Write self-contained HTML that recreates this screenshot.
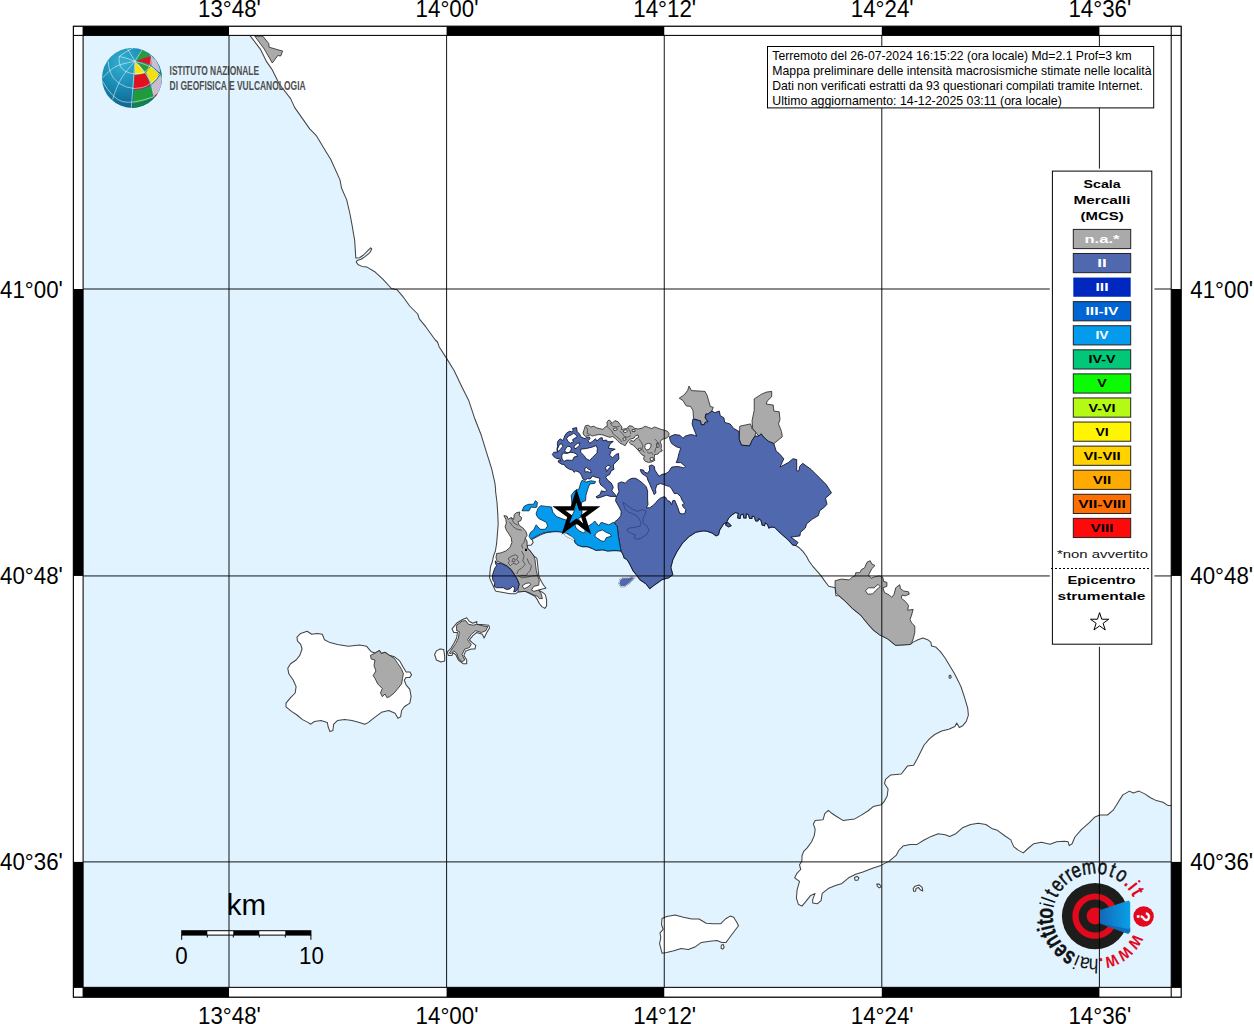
<!DOCTYPE html>
<html><head><meta charset="utf-8"><title>Mappa macrosismica</title>
<style>html,body{margin:0;padding:0;background:#fff;width:1254px;height:1024px;overflow:hidden;font-family:"Liberation Sans",sans-serif}</style>
</head><body>
<svg width="1254" height="1024" viewBox="0 0 1254 1024" style="position:absolute;left:0;top:0;font-family:'Liberation Sans',sans-serif">
<defs>
<clipPath id="mapclip"><rect x="83.1" y="35.4" width="1088.1000000000001" height="951.95"/></clipPath>
<radialGradient id="gl" cx="35%" cy="25%" r="80%"><stop offset="0" stop-color="#35b0d2"/><stop offset="0.55" stop-color="#1787b0"/><stop offset="1" stop-color="#0c5f8a"/></radialGradient>
<linearGradient id="cone" x1="0" x2="1" y1="0" y2="0"><stop offset="0" stop-color="#1268b8"/><stop offset="1" stop-color="#0aa0e6"/></linearGradient>
<clipPath id="globeclip"><circle cx="132" cy="77.9" r="30"/></clipPath>
</defs>
<rect x="0" y="0" width="1254" height="1024" fill="#fff"/>
<g clip-path="url(#mapclip)">
<rect x="83.1" y="35.4" width="1088.1000000000001" height="951.95" fill="#e0f3ff"/>
<path d="M250.4,36.1 L260.3,49.1 L266.7,61.9 L271.8,69.1 L279.4,84.2 L290.6,98.6 L294.6,107.4 L309.7,128.9 L316.1,135.3 L325.7,151.2 L330.8,159.5 L340.0,179.9 L341.5,188.0 L346.7,199.9 L349.9,213.5 L352.3,226.3 L354.7,240.6 L355.5,253.4 L355.8,258.1 L359.5,257.8 L363.5,255.0 L368.3,250.2 L370.7,247.8 L371.8,248.9 L369.9,252.6 L365.1,256.6 L361.1,259.3 L357.1,260.5 L356.3,262.1 L357.9,264.5 L361.9,266.4 L366.7,266.9 L374.7,271.7 L382.6,278.9 L391.4,288.5 L397.0,289.7 L403.4,297.2 L409.7,306.0 L417.7,314.0 L419.3,318.8 L425.7,326.7 L435.3,340.0 L437.5,342.0 L439.1,346.7 L446.3,357.9 L454.2,370.7 L462.2,387.4 L468.6,400.2 L475.0,419.3 L481.3,435.3 L486.1,451.2 L491.7,468.8 L494.9,483.1 L495.7,490.0 L495.4,490.0 L497.0,502.2 L497.8,514.4 L498.2,524.2 L497.2,536.4 L496.6,543.7 L495.4,551.0 L493.5,555.9 L492.3,562.0 L490.5,566.9 L489.9,573.0 L489.6,577.9 L491.1,581.6 L492.9,585.2 L494.8,589.5 L496.0,591.3 L503.3,592.5 L510.6,593.8 L515.5,593.8 L518.0,591.9 L525.3,591.3 L530.2,593.8 L535.0,596.2 L537.5,599.9 L539.3,603.5 L541.8,606.6 L544.8,608.4 L546.6,606.0 L546.6,599.9 L545.4,595.0 L543.6,593.1 L540.5,591.3 L538.7,590.1 L542.4,588.9 L546.0,588.3 L543.6,585.2 L541.8,582.2 L539.9,578.5 L538.7,575.4 L538.1,569.3 L537.5,563.2 L536.9,558.4 L533.8,555.9 L532.0,553.5 L530.2,551.0 L527.7,548.6 L527.1,545.5 L531.4,544.9 L533.2,542.5 L532.0,539.4 L536.3,537.0 L541.2,534.6 L546.0,532.7 L553.4,531.7 L561.9,531.5 L562.9,532.5 L568.0,533.8 L571.2,536.3 L574.4,538.9 L575.1,542.7 L578.2,545.3 L582.1,546.6 L587.2,546.6 L592.3,548.5 L596.1,550.4 L602.5,549.7 L607.6,551.0 L615.2,550.4 L621.0,551.0 L622.9,554.2 L624.2,558.0 L626.7,559.3 L628.6,561.9 L630.6,565.7 L633.1,570.8 L636.3,574.6 L639.9,579.7 L645.9,583.7 L649.8,588.7 L654.8,584.7 L661.8,579.7 L668.8,577.7 L672.8,574.7 L670.8,567.7 L672.8,559.7 L676.8,551.8 L682.7,542.8 L688.7,536.8 L695.7,532.2 L703.7,530.8 L707.2,531.3 L712.0,532.9 L716.1,535.9 L718.5,534.7 L719.7,529.9 L722.1,526.3 L723.9,523.3 L728.1,522.7 L731.1,525.7 L728.7,526.9 L725.7,525.1 L726.9,521.5 L728.7,517.9 L731.7,515.0 L735.3,512.6 L738.3,513.2 L737.7,517.9 L740.1,518.5 L740.7,515.0 L743.1,513.8 L743.7,517.9 L746.1,517.9 L746.1,513.8 L748.4,514.4 L749.6,518.5 L752.0,518.5 L752.0,516.1 L754.4,516.7 L755.6,520.9 L758.0,520.9 L758.6,518.5 L761.0,520.3 L762.2,525.1 L764.6,525.7 L765.2,522.7 L767.6,524.5 L768.8,528.1 L771.8,526.9 L774.8,527.5 L778.9,531.7 L783.7,535.9 L788.5,540.1 L792.7,544.9 L795.7,545.5 L799.3,547.8 L802.9,551.4 L806.5,556.2 L808.9,561.0 L812.4,565.8 L816.6,570.6 L820.8,575.4 L823.9,579.9 L828.7,586.3 L835.1,587.8 L835.9,595.8 L839.1,595.8 L844.7,600.6 L852.6,608.6 L860.6,615.0 L867.0,622.9 L873.4,630.1 L879.7,634.9 L887.7,638.9 L895.7,645.3 L910.0,644.5 L913.2,642.1 L918.0,639.7 L922.8,638.1 L927.6,639.7 L930.8,642.1 L931.6,646.1 L935.6,646.9 L940.4,651.6 L945.1,658.0 L949.9,666.0 L954.7,674.0 L958.7,681.9 L961.1,687.0 L964.6,697.6 L967.7,708.1 L968.4,715.2 L966.3,721.3 L962.8,725.7 L959.3,727.5 L956.7,723.1 L954.9,726.6 L948.8,729.2 L941.7,731.0 L934.7,734.5 L929.4,738.9 L924.1,745.0 L920.6,752.1 L917.1,759.1 L913.6,765.3 L907.4,766.1 L901.3,774.0 L890.7,774.9 L885.5,779.3 L884.6,783.7 L888.1,789.0 L887.2,796.0 L883.7,802.2 L881.1,804.8 L873.2,806.6 L867.9,811.0 L860.9,815.4 L854.7,818.9 L848.6,819.7 L843.3,820.6 L836.2,816.2 L831.0,812.7 L828.3,810.4 L824.8,813.6 L823.1,819.7 L815.2,820.6 L813.4,824.1 L815.2,829.4 L814.3,835.6 L811.6,841.7 L807.2,847.9 L803.7,851.4 L802.0,855.8 L801.9,861.1 L799.5,864.7 L800.7,869.5 L797.1,873.1 L794.7,877.8 L799.5,881.4 L797.1,889.8 L796.4,898.2 L798.3,904.2 L801.9,906.1 L805.5,901.8 L810.3,895.8 L815.1,893.4 L812.7,899.4 L812.7,903.0 L817.5,903.7 L821.1,900.6 L822.2,893.4 L828.2,888.6 L835.4,885.5 L841.4,883.8 L848.6,877.8 L855.7,874.3 L862.9,871.9 L872.5,868.3 L880.9,865.4 L889.2,861.1 L896.4,855.1 L898.7,850.5 L903.0,846.1 L910.1,844.4 L917.1,844.4 L924.1,840.0 L931.2,836.4 L938.2,833.8 L945.2,834.7 L949.6,836.4 L955.3,834.1 L963.0,827.4 L970.6,824.5 L978.3,823.2 L985.9,824.5 L991.7,828.4 L997.4,830.3 L1005.1,836.0 L1010.8,839.9 L1013.7,846.6 L1018.5,850.4 L1023.3,852.9 L1028.0,848.5 L1033.8,843.7 L1041.4,842.3 L1050.0,844.3 L1056.7,841.8 L1064.4,841.2 L1068.2,841.8 L1069.2,845.6 L1072.1,843.7 L1074.9,837.0 L1081.6,829.3 L1089.3,822.6 L1095.0,816.9 L1099.8,815.0 L1107.5,815.0 L1113.2,810.2 L1118.0,802.5 L1122.8,794.9 L1129.5,791.1 L1133.3,793.0 L1139.0,791.1 L1144.8,793.9 L1150.5,797.8 L1156.3,800.6 L1163.0,802.2 L1167.8,805.4 L1172.5,805.4 L1180,805 L1180,20 L250,20Z" fill="#fff" stroke="#444444" stroke-width="1.05" stroke-linejoin="round"/>
<path d="M297.0,637.1 L300.7,633.4 L307.1,631.2 L311.7,634.3 L317.2,633.4 L322.3,634.3 L324.5,639.8 L330.0,642.6 L337.4,644.4 L348.4,646.3 L359.4,645.0 L366.7,646.3 L371.3,651.8 L375.0,653.1 L379.5,650.5 L381.4,653.6 L385.0,652.3 L388.7,654.9 L394.2,656.7 L399.7,660.9 L403.4,667.4 L406.1,671.9 L409.8,671.9 L411.6,674.7 L409.8,677.4 L406.1,677.4 L404.3,680.2 L406.1,684.8 L409.8,689.4 L411.1,696.7 L409.8,703.1 L404.3,706.8 L401.6,710.5 L400.6,716.9 L397.9,718.3 L395.1,713.2 L388.7,710.5 L381.4,712.3 L374.0,717.8 L368.5,722.4 L364.9,724.2 L359.4,722.4 L352.0,720.6 L344.7,719.6 L337.4,720.6 L333.7,724.2 L332.8,730.6 L330.0,731.6 L328.2,727.0 L327.3,722.4 L320.9,720.6 L314.4,721.5 L310.8,724.2 L308.0,722.4 L302.5,719.6 L297.0,715.0 L291.5,711.4 L286.0,706.8 L286.0,703.1 L290.6,697.6 L295.2,693.0 L296.1,686.6 L293.3,680.2 L288.8,673.8 L287.8,668.3 L290.6,663.7 L296.1,660.0 L299.8,655.4 L302.1,649.0 L300.7,644.4 L297.4,640.8Z" fill="#fff" stroke="#444444" stroke-width="1.05" stroke-linejoin="round"/>
<path d="M452.0,628.8 L456.6,623.3 L462.1,619.7 L466.7,617.8 L469.4,621.5 L473.1,623.3 L476.8,621.5 L476.8,624.3 L484.1,624.8 L488.7,625.2 L489.6,627.9 L486.8,632.5 L484.1,638.0 L482.3,634.3 L476.8,632.5 L473.1,635.3 L469.4,639.8 L472.2,642.6 L475.8,645.4 L474.9,649.0 L471.3,649.0 L465.7,650.9 L463.9,655.4 L466.7,660.0 L466.7,663.7 L463.0,663.7 L458.4,660.0 L455.7,654.5 L452.9,652.7 L452.0,655.4 L448.3,655.4 L447.4,651.8 L451.1,648.1 L453.8,643.5 L456.6,638.0 L457.5,632.5 L453.8,632.5Z" fill="#fff" stroke="#444444" stroke-width="1.05" stroke-linejoin="round"/>
<path d="M434.6,654.5 L436.4,650.9 L440.1,649.0 L443.7,649.4 L444.7,656.4 L444.7,660.9 L441.0,661.9 L436.4,660.0Z" fill="#fff" stroke="#444444" stroke-width="1.05" stroke-linejoin="round"/>
<path d="M662.0,918.5 L666.7,916.6 L675.1,914.9 L683.5,917.3 L691.9,919.0 L699.0,919.0 L706.2,923.3 L713.4,923.8 L720.6,923.8 L725.4,919.0 L730.1,916.1 L733.7,917.3 L736.6,922.1 L738.5,925.7 L734.9,930.5 L731.3,935.3 L727.8,940.0 L726.1,942.4 L721.8,942.4 L717.0,940.5 L709.8,941.2 L701.4,942.4 L695.5,946.7 L688.3,949.6 L681.1,948.4 L673.9,950.8 L666.7,952.5 L662.0,953.2 L660.8,948.4 L659.6,943.6 L660.8,937.7 L660.0,932.9 L663.2,929.3 L661.5,924.5Z" fill="#fff" stroke="#444444" stroke-width="1.05" stroke-linejoin="round"/>
<path d="M854.5,877.4 L856.9,876.4 L858.9,877.8 L857.7,880.2 L855.0,880.2Z" fill="#fff" stroke="#444444" stroke-width="1.05" stroke-linejoin="round"/>
<path d="M876.8,884.1 L879.2,884.1 L881.3,886.9 L879.2,887.9 L877.3,886.2Z" fill="#fff" stroke="#444444" stroke-width="1.05" stroke-linejoin="round"/>
<path d="M913.2,888.6 L915.1,886.2 L919.1,885.0 L922.2,887.4 L922.7,891.0 L920.3,889.8 L918.4,887.4 L916.0,888.4 L915.6,891.2 L913.6,891.2Z" fill="#fff" stroke="#444444" stroke-width="1.05" stroke-linejoin="round"/>
<path d="M721.3,945.3 L723.2,944.4 L724.2,947.2 L722.7,949.1 L721.1,948.2Z" fill="#fff" stroke="#444444" stroke-width="1.05" stroke-linejoin="round"/>
<path d="M949.3,675.6 L950.6,675.2 L951.2,677.5 L949.9,678.4 L949.0,677.2Z" fill="#fff" stroke="#444444" stroke-width="1.05" stroke-linejoin="round"/>
<path d="M619.9,579.7 L622.9,577.7 L627.9,577.7 L631.9,576.7 L634.9,577.7 L631.9,580.7 L628.9,583.7 L624.9,586.7 L620.9,586.7 L618.9,583.7Z" fill="#fff" stroke="#444444" stroke-width="1.05" stroke-linejoin="round"/>
<path d="M254.7,36.1 L262.7,36.1 L268.8,43.6 L269.1,47.2 L282.6,51.1 L280.7,56.0 L277.8,55.5 L272.3,63.0 L264.3,49.1Z" fill="#aaaaaa" fill-rule="evenodd" stroke="#222" stroke-width="0.8" stroke-linejoin="round"/>
<path d="M583.0,432.9 L584.2,429.4 L585.4,425.8 L588.2,425.2 L590.9,427.0 L593.7,426.2 L596.5,427.8 L599.7,428.6 L602.9,429.4 L605.3,427.0 L607.3,425.8 L606.9,422.2 L608.9,419.9 L610.9,421.4 L612.1,423.4 L614.9,420.6 L618.1,421.8 L620.1,424.6 L622.0,427.0 L621.3,429.4 L623.6,429.0 L626.8,428.6 L629.2,425.8 L632.4,426.2 L634.4,428.2 L638.0,429.0 L642.0,428.2 L645.2,426.2 L648.4,427.4 L651.6,428.6 L654.7,427.0 L657.9,428.2 L661.1,429.4 L664.3,430.2 L667.5,431.3 L669.1,433.3 L668.7,436.1 L666.7,438.1 L663.5,438.9 L661.5,439.7 L660.3,442.1 L661.5,445.3 L661.1,448.5 L662.3,450.9 L659.5,452.1 L657.9,454.1 L654.7,454.5 L654.3,457.3 L654.7,460.5 L651.6,462.0 L648.4,462.4 L645.2,461.3 L643.6,458.9 L644.4,455.7 L642.0,454.9 L640.0,452.5 L638.0,450.1 L635.6,447.7 L633.6,445.3 L630.8,444.1 L629.2,442.5 L630.8,440.5 L634.0,441.3 L635.6,438.9 L638.8,437.3 L638.0,434.9 L635.6,435.7 L634.0,438.1 L630.8,438.9 L628.4,440.5 L626.8,442.9 L625.2,445.7 L622.8,444.5 L619.7,442.9 L617.3,440.5 L614.9,438.1 L612.5,436.5 L610.1,437.3 L606.9,436.5 L602.9,434.9 L598.9,434.5 L594.9,435.3 L592.1,436.1 L590.2,434.9 L587.8,435.7 L585.4,436.5 L583.8,434.9Z M645.2,444.5 L648.4,443.3 L651.2,444.1 L650.8,446.9 L649.2,449.3 L646.4,450.1 L644.8,447.7Z M623.2,430.6 L626.0,429.8 L627.6,430.9 L626.0,432.5 L623.6,432.1Z M622.8,438.1 L625.6,437.7 L626.0,439.7 L623.6,440.5Z M632.0,429.8 L634.8,429.4 L635.2,431.3 L632.4,431.7Z M613.3,428.6 L616.5,427.8 L617.3,429.8 L614.1,430.6Z M650.0,458.1 L652.8,457.3 L653.5,459.7 L650.8,460.9Z M638.4,448.5 L640.8,448.1 L641.2,450.1 L638.8,450.5Z M656.3,443.7 L658.7,442.9 L659.1,446.9 L657.1,447.7Z" fill="#aaaaaa" fill-rule="evenodd" stroke="#222" stroke-width="0.8" stroke-linejoin="round"/>
<path d="M586.2,427.0 L587.8,430.2 L587.0,433.3 L589.4,434.1" fill="none" stroke="#383838" stroke-width="0.7"/>
<path d="M606.9,426.2 L609.3,428.6 L611.7,430.9 L613.3,434.1 L616.5,436.5 L619.7,438.9 L622.0,442.1" fill="none" stroke="#383838" stroke-width="0.7"/>
<path d="M610.1,423.0 L612.5,426.2 L616.5,427.0 L619.7,426.2" fill="none" stroke="#383838" stroke-width="0.7"/>
<path d="M619.7,430.9 L622.8,434.1 L624.4,436.5 L627.6,437.3 L630.8,435.7" fill="none" stroke="#383838" stroke-width="0.7"/>
<path d="M627.6,427.8 L630.0,430.9 L630.8,434.1" fill="none" stroke="#383838" stroke-width="0.7"/>
<path d="M638.8,438.9 L641.2,442.1 L642.8,445.3 L642.0,449.3 L644.4,452.5" fill="none" stroke="#383838" stroke-width="0.7"/>
<path d="M654.7,438.9 L657.1,441.3 L657.9,445.3 L655.5,448.5 L654.7,452.5" fill="none" stroke="#383838" stroke-width="0.7"/>
<path d="M646.8,451.7 L649.2,453.3 L651.6,452.5 L653.1,454.9" fill="none" stroke="#383838" stroke-width="0.7"/>
<path d="M689.1,386.1 L691.4,390.6 L705.0,391.4 L707.3,395.9 L708.8,401.2 L710.3,406.5 L713.3,407.3 L711.8,411.1 L708.0,414.1 L705.8,414.1 L705.0,417.9 L708.0,421.7 L705.0,422.4 L704.2,424.7 L701.2,424.7 L700.5,420.9 L693.6,418.6 L692.9,410.3 L690.6,406.5 L686.1,405.8 L683.0,400.5 L679.2,398.2 L683.8,395.2 L687.6,390.6Z" fill="#aaaaaa" fill-rule="evenodd" stroke="#222" stroke-width="0.8" stroke-linejoin="round"/>
<path d="M771.7,391.4 L771.7,396.7 L767.1,401.2 L766.4,404.2 L773.2,405.0 L773.9,411.1 L779.2,411.8 L780.0,419.4 L778.5,423.9 L781.5,431.5 L782.3,436.8 L778.5,439.8 L773.9,443.6 L768.6,441.4 L764.1,437.6 L761.1,433.8 L758.8,436.1 L755.8,432.3 L752.7,428.5 L752.0,420.9 L754.2,410.3 L754.2,398.9 L761.1,394.4 L766.4,392.1Z" fill="#aaaaaa" fill-rule="evenodd" stroke="#222" stroke-width="0.8" stroke-linejoin="round"/>
<path d="M739.8,426.2 L750.5,423.9 L752.0,428.5 L755.8,432.3 L755.0,436.1 L752.0,440.6 L749.7,445.9 L741.4,445.2 L739.1,439.1Z" fill="#aaaaaa" fill-rule="evenodd" stroke="#222" stroke-width="0.8" stroke-linejoin="round"/>
<path d="M835.1,580.7 L841.5,579.1 L849.4,579.9 L852.6,576.7 L855.0,575.9 L855.8,572.7 L859.8,572.7 L861.4,569.5 L864.6,567.9 L867.0,562.3 L870.2,560.7 L871.8,563.9 L875.0,565.5 L871.8,568.7 L870.2,571.9 L868.6,575.1 L871.0,578.3 L875.0,576.7 L879.7,575.9 L882.9,577.5 L883.7,581.5 L886.9,582.3 L886.9,586.3 L882.9,587.8 L884.5,592.6 L889.3,595.0 L891.7,597.4 L894.1,594.2 L895.7,587.8 L899.7,584.7 L900.5,588.6 L903.7,591.0 L908.5,591.8 L909.3,594.2 L905.3,595.8 L902.1,595.0 L901.3,598.2 L905.3,601.4 L908.5,605.4 L907.7,610.2 L913.2,609.4 L911.6,615.0 L910.0,619.7 L911.6,622.9 L914.8,626.1 L914.8,632.5 L913.2,638.9 L911.6,642.9 L910.0,644.5 L895.7,645.3 L887.7,638.9 L879.7,634.9 L873.4,630.1 L867.0,622.9 L860.6,615.0 L852.6,608.6 L844.7,600.6 L839.1,595.8 L835.9,592.6 L835.1,586.3Z M865.4,590.7 L868.6,587.8 L874.2,587.8 L878.1,584.3 L880.1,586.6 L875.3,591.0 L872.6,593.9 L867.8,594.2Z" fill="#aaaaaa" fill-rule="evenodd" stroke="#222" stroke-width="0.8" stroke-linejoin="round"/>
<path d="M503.9,515.6 L507.0,516.2 L508.2,519.3 L511.2,517.5 L513.7,519.3 L514.3,514.4 L516.7,512.6 L519.8,512.0 L519.2,515.6 L521.6,517.5 L521.0,520.5 L518.0,521.7 L519.2,525.4 L522.8,527.8 L525.9,531.5 L527.1,535.2 L525.3,538.2 L527.1,541.3 L527.1,545.5 L527.7,548.6 L530.2,551.0 L532.0,553.5 L533.8,555.9 L535.0,559.6 L535.7,565.7 L536.3,570.6 L537.5,575.4 L539.3,580.3 L538.7,585.2 L533.8,586.4 L531.4,590.1 L533.8,591.3 L538.7,590.1 L541.2,593.8 L542.4,598.6 L539.3,598.6 L537.5,596.2 L535.0,595.6 L530.2,593.1 L525.3,591.3 L518.0,591.9 L518.0,587.7 L519.2,584.0 L517.3,579.1 L514.3,574.2 L511.2,569.3 L507.0,565.7 L502.1,563.2 L497.2,561.4 L496.0,557.7 L496.6,553.5 L500.9,552.9 L505.8,551.0 L510.0,547.4 L511.9,542.5 L511.2,537.6 L508.8,533.9 L506.4,530.3 L505.1,526.6 L506.4,523.0 L505.8,519.3Z M522.2,585.8 L525.9,583.4 L529.6,582.8 L530.8,584.6 L527.7,587.0 L524.1,588.9Z" fill="#aaaaaa" fill-rule="evenodd" stroke="#222" stroke-width="0.8" stroke-linejoin="round"/>
<path d="M508.2,558.4 L511.9,555.9 L515.5,554.7 L518.0,556.5 L516.7,559.6 L519.2,562.0 L516.7,564.5 L513.1,563.2 L510.6,565.7 L508.2,563.2 L509.4,560.8 L508.2,558.4" fill="none" stroke="#383838" stroke-width="0.7"/>
<path d="M513.1,558.4 L515.5,559.6 L514.3,562.0 L511.9,561.4 L513.1,558.4" fill="none" stroke="#383838" stroke-width="0.7"/>
<path d="M521.6,551.0 L524.1,555.9 L522.8,560.8 L525.3,564.5 L521.6,568.1 L518.0,570.6 L516.7,574.2" fill="none" stroke="#383838" stroke-width="0.7"/>
<path d="M527.1,558.4 L528.9,563.2 L531.4,565.7 L530.2,570.6 L527.7,573.0 L526.5,575.4 L520.4,575.4" fill="none" stroke="#383838" stroke-width="0.7"/>
<path d="M525.3,538.2 L524.1,542.5 L521.6,544.9 L522.8,548.6" fill="none" stroke="#383838" stroke-width="0.7"/>
<path d="M509.4,521.7 L513.1,526.6 L516.7,529.1 L521.6,530.3" fill="none" stroke="#383838" stroke-width="0.7"/>
<path d="M511.2,517.5 L513.7,523.0 L518.0,525.4" fill="none" stroke="#383838" stroke-width="0.7"/>
<path d="M518.0,575.4 L521.6,577.9 L526.5,577.3 L531.4,576.1 L537.5,575.4" fill="none" stroke="#383838" stroke-width="0.7"/>
<rect x="525" y="548.8" width="2" height="2.2" fill="#000"/>
<path d="M370.4,655.4 L375.0,653.1 L379.5,650.5 L381.4,653.6 L385.0,652.3 L388.7,654.9 L394.2,658.2 L397.9,663.7 L401.6,669.2 L403.4,673.8 L402.5,678.4 L401.6,683.9 L397.9,688.5 L394.2,693.0 L389.6,696.7 L386.9,697.6 L385.0,694.0 L382.3,696.7 L380.5,693.0 L382.3,688.5 L377.7,683.9 L375.0,678.4 L373.1,675.6 L375.9,671.0 L374.0,665.5 L375.0,660.0 L371.3,659.1Z" fill="#aaaaaa" fill-rule="evenodd" stroke="#222" stroke-width="0.8" stroke-linejoin="round"/>
<path d="M456.6,625.2 L462.1,621.1 L465.7,620.6 L468.5,624.3 L473.1,625.2 L476.8,624.3 L484.1,626.1 L487.8,626.6 L485.9,630.7 L481.3,632.5 L475.8,630.7 L471.3,634.3 L467.6,639.8 L471.3,644.4 L469.4,647.6 L464.8,649.0 L462.1,654.5 L464.8,660.0 L462.1,661.9 L458.4,658.2 L456.6,653.1 L453.8,650.9 L451.1,653.6 L449.2,653.1 L452.0,649.0 L455.7,643.5 L458.4,638.0 L459.3,631.6 L456.6,630.7Z" fill="#aaaaaa" fill-rule="evenodd" stroke="#222" stroke-width="0.8" stroke-linejoin="round"/>
<path d="M572.5,428.5 L576.6,427.6 L577.1,431.4 L579.5,434.0 L581.0,437.0 L585.1,438.8 L586.2,437.4 L589.6,437.0 L589.9,438.8 L588.1,440.7 L589.6,443.3 L592.5,441.4 L595.5,438.8 L597.0,441.1 L600.0,438.1 L602.2,437.7 L602.9,440.7 L606.6,440.0 L607.4,441.8 L613.3,441.4 L610.0,444.0 L608.3,448.1 L615.2,449.2 L611.1,451.1 L609.6,455.2 L612.6,457.8 L615.9,454.4 L618.5,453.5 L618.9,458.9 L616.3,461.9 L613.7,464.1 L613.3,467.0 L614.1,469.3 L611.1,470.9 L609.6,474.5 L606.6,476.0 L605.9,477.6 L608.1,480.6 L611.1,482.8 L613.3,487.2 L611.8,490.8 L615.2,494.5 L616.3,496.4 L610.3,496.4 L606.6,495.2 L600.0,497.5 L597.0,498.1 L596.1,496.7 L600.0,494.5 L601.4,490.8 L605.1,491.7 L606.6,490.1 L603.7,487.1 L600.7,484.9 L599.2,481.3 L600.0,478.3 L596.2,477.4 L592.5,476.0 L590.3,478.9 L587.3,478.6 L585.1,480.4 L582.9,478.9 L581.4,475.2 L579.2,472.2 L575.6,470.8 L574.3,472.4 L572.5,470.0 L569.5,469.3 L565.8,467.0 L564.0,464.4 L562.1,464.4 L558.4,462.2 L558.4,460.4 L560.6,461.1 L559.9,458.9 L556.2,458.3 L553.9,456.7 L552.3,454.4 L553.9,452.2 L557.5,452.1 L556.9,449.2 L557.6,446.3 L557.3,443.4 L558.0,440.9 L560.2,438.8 L562.8,440.5 L564.0,438.1 L564.7,435.9 L566.7,432.9 L569.5,431.3 L571.9,431.8 L573.2,430.7Z M566.6,438.5 L568.4,436.2 L571.4,434.8 L573.6,433.3 L575.8,434.8 L577.3,436.6 L575.1,438.1 L572.5,439.7 L573.6,441.8 L570.3,443.3 L568.0,441.4Z M559.1,445.2 L561.4,443.4 L562.8,446.3 L560.6,449.2 L558.0,451.6 L557.3,449.2 L558.4,447.0Z M565.8,448.5 L567.7,446.3 L570.3,446.6 L571.4,448.9 L570.3,451.5 L568.0,452.9 L565.8,452.2 L564.7,450.7Z M574.0,446.3 L577.3,443.4 L579.9,442.9 L579.2,445.5 L576.9,447.8 L574.7,448.9Z M561.7,455.9 L562.8,453.1 L566.6,453.4 L570.3,452.4 L573.2,452.6 L576.2,453.8 L577.7,456.1 L574.0,457.1 L572.5,460.4 L566.6,460.1 L564.0,461.5 L562.1,458.9Z M580.7,449.2 L586.6,448.5 L592.5,447.0 L596.2,445.5 L597.4,448.5 L597.0,452.9 L592.5,457.4 L589.6,460.4 L586.6,458.9 L583.6,455.2 L580.7,452.2Z M584.7,468.5 L586.6,467.4 L588.4,469.3 L590.7,470.0 L591.0,473.0 L589.2,472.2 L587.3,471.5 L585.1,472.2Z M605.5,467.8 L607.4,465.6 L609.6,465.2 L610.3,467.0 L608.1,469.3 L606.6,471.5Z" fill="#5068ae" fill-rule="evenodd" stroke="#0c1026" stroke-width="0.85" stroke-linejoin="round"/>
<path d="M669.4,436.8 L674.7,434.5 L680.0,435.3 L683.0,438.3 L685.3,436.1 L690.6,434.5 L694.4,435.3 L696.7,436.1 L693.6,428.5 L692.1,423.9 L692.9,419.1 L700.5,420.9 L701.2,424.7 L704.2,424.7 L705.0,422.4 L708.0,421.7 L705.3,417.9 L705.8,414.1 L708.0,414.1 L711.8,411.1 L714.8,412.6 L719.4,411.1 L720.2,415.6 L723.9,417.9 L724.7,422.4 L730.0,423.9 L733.8,428.5 L739.1,431.5 L739.1,439.1 L741.4,445.2 L749.7,445.9 L752.0,440.6 L755.0,436.1 L758.8,436.1 L761.1,433.8 L764.1,437.6 L768.6,441.4 L773.9,443.6 L776.2,451.2 L779.2,453.5 L783.8,458.8 L780.0,467.1 L788.3,462.6 L792.9,458.8 L796.7,459.5 L796.7,470.9 L798.9,470.9 L799.7,466.4 L802.7,463.3 L811.1,469.4 L815.6,473.9 L821.7,480.0 L826.2,484.5 L831.5,492.9 L825.5,498.2 L827.0,504.2 L824.4,507.2 L819.6,510.8 L818.4,515.6 L812.4,519.1 L806.5,523.9 L805.3,528.1 L800.5,532.3 L799.9,535.9 L790.9,537.1 L798.1,542.5 L795.7,545.5 L792.7,544.9 L788.5,540.1 L783.7,535.9 L778.9,531.7 L774.8,527.5 L771.8,526.9 L768.8,528.1 L767.6,524.5 L765.2,522.7 L764.6,525.7 L762.2,525.1 L761.0,520.3 L758.6,518.5 L758.0,520.9 L755.6,520.9 L754.4,516.7 L752.0,516.1 L752.0,518.5 L749.6,518.5 L748.4,514.4 L746.1,513.8 L746.1,517.9 L743.7,517.9 L743.1,513.8 L740.7,515.0 L740.1,518.5 L737.7,517.9 L738.3,513.2 L735.3,512.6 L731.7,515.0 L728.7,517.9 L726.9,521.5 L725.7,525.1 L728.7,526.9 L731.1,525.7 L728.1,522.7 L723.9,523.3 L722.1,526.3 L719.7,529.9 L718.5,534.7 L716.1,535.9 L712.0,532.9 L707.2,531.3 L703.7,530.8 L695.7,532.2 L688.7,536.8 L682.7,542.8 L676.8,551.8 L672.8,559.7 L670.8,567.7 L672.8,574.7 L668.8,577.7 L661.8,579.7 L654.8,584.7 L649.8,588.7 L645.9,583.7 L639.9,579.7 L636.3,574.6 L633.1,570.8 L630.6,565.7 L628.6,561.9 L626.7,559.3 L624.2,558.0 L622.9,554.2 L621.0,551.0 L619.7,544.0 L618.4,536.3 L617.2,526.1 L615.5,527.1 L614.6,521.9 L618.1,519.2 L620.8,515.7 L621.2,511.3 L619.0,506.9 L615.5,500.8 L616.4,496.8 L619.0,491.5 L618.1,487.6 L618.1,483.2 L621.6,481.9 L625.2,483.2 L628.7,479.7 L632.2,478.3 L635.7,478.3 L639.2,480.5 L642.7,483.2 L646.2,486.7 L647.6,491.1 L647.6,499.0 L648.0,504.7 L646.2,507.8 L649.8,507.8 L653.3,505.2 L655.9,502.5 L658.6,499.4 L661.2,497.7 L663.8,496.8 L665.6,497.2 L667.3,500.3 L670.0,501.6 L671.7,504.7 L672.6,500.8 L674.8,500.3 L677.9,507.8 L679.6,513.1 L682.3,513.9 L684.9,513.5 L685.8,509.6 L683.2,506.9 L682.3,504.7 L684.5,503.4 L682.3,500.8 L680.5,496.4 L677.0,493.3 L674.4,493.7 L671.7,488.9 L669.1,486.3 L665.6,485.4 L663.8,484.5 L660.3,483.6 L656.8,484.9 L655.5,489.3 L655.9,492.9 L654.2,494.6 L652.8,491.1 L651.5,488.5 L649.8,484.1 L648.0,480.5 L647.1,477.0 L644.5,475.3 L641.9,473.5 L640.1,470.0 L640.4,469.6 L643.5,470.1 L644.5,472.2 L647.6,473.2 L649.7,470.1 L649.2,466.0 L651.8,464.9 L654.4,466.5 L654.9,470.1 L657.0,473.2 L659.0,476.3 L662.1,474.3 L665.3,473.8 L664.1,474.7 L668.6,471.7 L671.7,467.1 L677.7,466.4 L683.8,467.9 L685.3,466.4 L680.8,462.6 L676.2,462.6 L677.7,458.8 L679.2,452.7 L680.8,448.2 L676.2,446.7 L671.7,443.6 L670.2,440.6Z" fill="#5068ae" fill-rule="evenodd" stroke="#0c1026" stroke-width="0.85" stroke-linejoin="round"/>
<path d="M495.4,560.8 L497.2,563.2 L502.1,563.9 L507.0,566.3 L511.2,570.0 L514.3,574.8 L517.3,579.7 L519.2,584.6 L518.0,588.3 L516.1,591.3 L513.7,591.9 L514.9,587.7 L512.5,586.4 L510.0,588.9 L506.4,589.5 L503.3,587.7 L499.6,587.7 L496.6,587.7 L494.2,586.4 L494.8,582.8 L492.9,580.3 L492.3,576.1 L493.5,571.8 L494.8,568.1 L496.6,565.7 L495.4,563.2Z" fill="#5068ae" fill-rule="evenodd" stroke="#0c1026" stroke-width="0.85" stroke-linejoin="round"/>
<path d="M619.9,579.7 L622.9,577.7 L627.9,577.7 L631.9,576.7 L634.9,577.7 L631.9,580.7 L628.9,583.7 L624.9,586.7 L620.9,586.7 L618.9,583.7Z" fill="#5068ae" stroke="#fff" stroke-width="0.8"/>
<path d="M623.0,502.1 L626.9,505.2 L631.3,508.7 L637.5,511.3 L642.7,509.6 L646.2,511.3 L644.5,515.7 L642.7,519.2 L643.6,523.6 L647.1,526.2 L648.9,529.8 L647.1,534.2 L641.9,537.7 L637.5,539.4 L633.9,537.7 L635.7,535.0 L631.3,533.3 L627.8,531.5 L626.9,529.8 L629.6,528.0 L635.7,527.1 L640.1,526.2 L641.0,522.7 L639.2,519.2 L636.6,515.7 L633.1,513.9 L628.7,512.2 L625.2,509.6 L623.8,505.2Z" fill="none" stroke="#26336b" stroke-width="0.6"/>
<path d="M536.1,513.4 L538.1,508.3 L540.6,505.7 L546.3,506.4 L551.5,507.0 L552.7,512.1 L556.6,516.6 L562.9,519.1 L569.3,521.0 L573.8,512.1 L575.1,508.3 L571.9,503.2 L571.2,495.5 L574.4,491.1 L578.9,489.1 L580.8,482.8 L582.1,480.2 L585.9,482.1 L591.0,480.8 L595.5,481.5 L594.8,483.4 L589.7,484.0 L587.8,489.1 L585.9,495.5 L585.6,500.6 L582.1,501.9 L580.8,505.7 L582.1,512.1 L580.8,517.2 L578.2,518.5 L582.1,523.6 L588.5,526.1 L592.3,523.6 L594.8,521.0 L598.7,526.1 L601.2,522.3 L605.0,523.6 L608.9,524.9 L613.3,522.3 L617.2,526.1 L618.4,536.3 L619.7,544.0 L621.0,551.0 L615.2,550.4 L607.6,551.0 L602.5,549.7 L596.1,550.4 L592.3,548.5 L587.2,546.6 L582.1,546.6 L578.2,545.3 L575.1,542.7 L574.4,538.9 L571.2,536.3 L568.0,533.8 L562.9,532.5 L556.6,531.2 L548.9,531.9 L542.5,533.2 L536.1,536.3 L531.0,539.5 L529.1,536.3 L530.4,532.5 L533.6,530.0 L536.1,524.9 L538.1,526.8 L540.0,529.3 L545.1,529.3 L547.6,526.1 L546.3,522.3 L542.5,520.4 L538.7,518.5 L536.8,515.9Z M595.5,533.8 L598.7,531.2 L602.5,530.0 L606.3,532.5 L610.1,533.8 L611.4,536.3 L606.3,537.6 L604.4,541.5 L601.2,540.8 L597.4,538.3 L594.8,536.3Z M574.8,524.4 L578.0,523.8 L580.5,526.3 L584.4,529.5 L585.6,531.4 L583.1,533.0 L579.3,530.8 L576.1,528.2Z" fill="#059bec" fill-rule="evenodd" stroke="#06223c" stroke-width="0.8" stroke-linejoin="round"/>
<path d="M563.4,533.0 L565.9,533.3 L569.1,535.2 L572.3,537.1 L574.8,539.7 L573.6,540.3 L570.4,538.4 L567.2,537.1 L564.7,535.2Z" fill="#fff" stroke="#555" stroke-width="0.5"/>
<path d="M522.1,510.8 L524.0,506.4 L527.8,504.4 L533.6,504.2 L535.5,500.6 L537.4,502.5 L536.8,507.0 L534.9,507.6 L531.0,507.0 L529.1,510.8 L525.3,510.8Z" fill="#059bec" fill-rule="evenodd" stroke="#06223c" stroke-width="0.8" stroke-linejoin="round"/>
<circle cx="132" cy="77.9" r="30" fill="url(#gl)"/>
<g clip-path="url(#globeclip)">
<path d="M135.66,60.88 L141.89,49.89 L149.58,54.65 L146.28,57.44 L141.89,58.9Z" fill="#2a9a3a"/>
<path d="M136.03,61.39 L141.89,59.05 L146.28,57.44 L151.26,56.48 L151.56,61.25 L150.82,65.05 L146.28,63.3 L141.89,62.12Z" fill="#e3121f"/>
<path d="M149.21,54.29 L152.88,57.22 L151.26,57.0Z" fill="#f4e21a"/>
<path d="M151.41,56.26 L156.17,60.51 L159.47,67.84 L160.2,72.6 L158.59,71.65 L151.41,65.49 L151.26,61.25Z" fill="#cbbfd3"/>
<path d="M136.76,62.34 L142.62,62.86 L150.82,65.79 L148.26,69.45 L145.55,72.38 L142.62,67.99 L139.69,64.32Z" fill="#2a9a3a"/>
<path d="M135.0,61.98 L138.96,64.91 L142.62,69.3 L144.96,73.11 L140.42,74.14 L134.78,74.58Z" fill="#f6e216"/>
<path d="M151.12,66.37 L158.88,73.85 L156.68,78.97 L151.41,84.1 L149.21,79.56 L145.99,72.38 L148.26,69.45Z" fill="#f2df14"/>
<path d="M134.41,75.16 L140.42,74.58 L145.26,73.41 L147.89,78.97 L150.24,84.84 L142.62,88.5 L133.97,89.67Z" fill="#e3101e"/>
<path d="M159.91,75.16 L162.03,78.1 L161.3,85.42 L158.15,92.89 L154.05,96.56 L152.58,91.28 L151.56,84.84 L156.68,80.0Z" fill="#c9bccf"/>
<path d="M160.35,72.23 L162.4,74.43 L162.03,77.0 L160.35,75.02Z" fill="#2a9a3a"/>
<path d="M133.83,90.55 L142.62,89.23 L150.82,85.86 L153.02,92.89 L153.75,97.29 L146.28,100.95 L132.95,103.88Z" fill="#1f9a3c"/>
<path d="M132.95,104.62 L146.28,101.68 L154.05,98.02 L150.68,103.37 L142.62,107.4 L132.0,108.5Z" fill="#12834a"/>
<path d="M154.49,95.68 L158.15,92.89 L156.9,96.04 L154.49,97.88Z" fill="#e3101e"/>
<path d="M134.93,61.25 Q133.1,83.96 131.26,108.13" fill="none" stroke="#fff" stroke-width="0.55" stroke-opacity="0.95"/>
<path d="M134.93,61.25 Q125.77,71.5 121.74,77.73 Q117.71,83.96 112.58,99.34" fill="none" stroke="#fff" stroke-width="0.55" stroke-opacity="0.95"/>
<path d="M134.93,61.25 Q119.18,64.18 114.05,67.47 Q108.92,70.77 102.33,78.1" fill="none" stroke="#fff" stroke-width="0.55" stroke-opacity="0.95"/>
<path d="M134.93,61.25 Q130.16,53.19 127.23,48.42" fill="none" stroke="#fff" stroke-width="0.55" stroke-opacity="0.95"/>
<path d="M134.93,61.25 L141.89,50.26" fill="none" stroke="#fff" stroke-width="0.55" stroke-opacity="0.95"/>
<path d="M134.93,61.25 Q145.55,72.23 148.48,78.09 Q151.41,83.96 153.97,97.14" fill="none" stroke="#fff" stroke-width="0.55" stroke-opacity="0.95"/>
<path d="M134.93,61.25 Q150.68,65.64 155.07,70.03 Q159.47,74.43 162.03,76.63" fill="none" stroke="#fff" stroke-width="0.55" stroke-opacity="0.95"/>
<path d="M119.18,56.48 Q118.81,64.91 121.56,68.2 Q124.3,71.5 129.62,72.97 Q134.93,74.43 140.24,73.33 Q145.55,72.23 148.12,68.94 Q150.68,65.64 151.41,56.85" fill="none" stroke="#fff" stroke-width="0.55" stroke-opacity="0.95"/>
<path d="M108.19,61.25 Q108.92,71.5 113.31,77.73 Q117.71,83.96 125.95,86.89 Q134.19,89.82 142.25,87.62 Q150.31,85.42 159.47,74.43" fill="none" stroke="#fff" stroke-width="0.55" stroke-opacity="0.95"/>
<path d="M102.33,81.03 Q112.58,98.61 122.1,101.54 Q131.63,104.47 153.61,96.78" fill="none" stroke="#fff" stroke-width="0.55" stroke-opacity="0.95"/>
<path d="M119.18,56.48 Q126.5,50.99 133.1,48.06" fill="none" stroke="#fff" stroke-width="0.55" stroke-opacity="0.95"/>
<path d="M119.18,56.48 Q125.77,57.58 134.93,61.25" fill="none" stroke="#fff" stroke-width="0.55" stroke-opacity="0.95"/>
</g>
<text x="169.6" y="75.3" font-size="12.4" fill="#4e4e4e" textLength="89.5" lengthAdjust="spacingAndGlyphs" font-weight="bold">ISTITUTO NAZIONALE</text>
<text x="169.6" y="89.7" font-size="12.4" fill="#4e4e4e" textLength="136" lengthAdjust="spacingAndGlyphs" font-weight="bold">DI GEOFISICA E VULCANOLOGIA</text>
<rect x="181.2" y="930.2" width="130.2" height="5.4" fill="#000"/>
<rect x="207.3" y="931.2" width="26.0" height="3.4" fill="#fff"/>
<rect x="259.3" y="931.2" width="26.0" height="3.4" fill="#fff"/>
<line x1="181.7" y1="935" x2="181.7" y2="939.8" stroke="#000" stroke-width="1"/>
<line x1="207.3" y1="935" x2="207.3" y2="937.5" stroke="#000" stroke-width="1"/>
<line x1="233.3" y1="935" x2="233.3" y2="937.5" stroke="#000" stroke-width="1"/>
<line x1="259.3" y1="935" x2="259.3" y2="937.5" stroke="#000" stroke-width="1"/>
<line x1="285.3" y1="935" x2="285.3" y2="937.5" stroke="#000" stroke-width="1"/>
<line x1="310.9" y1="935" x2="310.9" y2="939.8" stroke="#000" stroke-width="1"/>
<text x="246.3" y="914.5" font-size="29.5" text-anchor="middle" fill="#000">km</text>
<text transform="translate(181.4,964.2) scale(1,1.05)" font-size="22.3" text-anchor="middle" fill="#000">0</text>
<text transform="translate(311.4,964.2) scale(1,1.05)" font-size="22.3" text-anchor="middle" fill="#000">10</text>
<circle cx="1095.1" cy="916.1" r="33.2" fill="#1d1d1b"/>
<circle cx="1095.1" cy="916.1" r="19.6" fill="none" stroke="#e2091d" stroke-width="6.2"/>
<circle cx="1095.1" cy="916.1" r="8.5" fill="#e2091d"/>
<path d="M1099.48,910.37 L1127.03,900.88 L1128.87,900.61 L1130.19,902.46 L1130.19,931.72 L1128.34,933.83 L1126.23,933.3 L1099.48,923.28Z" fill="url(#cone)"/>
<path d="M1099.48,923.28 L1128.34,929.08 L1130.19,927.76 L1130.19,931.72 L1128.34,933.83 L1126.23,933.3Z" fill="#0b63ad" fill-opacity="0.75"/>
<circle cx="1143.6" cy="916.5" r="10.2" fill="#e2091d"/>
<text transform="translate(1137.4,916.9) rotate(90)" font-size="17.5" font-weight="bold" fill="#fff" text-anchor="middle">?</text>
<text transform="translate(1130.86,938.88) rotate(122.5) scale(0.8,1)" font-size="20.5" font-weight="bold" fill="#e2091d" text-anchor="middle">w</text>
<text transform="translate(1121.61,949.19) rotate(141.3) scale(0.8,1)" font-size="20.5" font-weight="bold" fill="#e2091d" text-anchor="middle">w</text>
<text transform="translate(1109.74,955.89) rotate(159.8) scale(0.8,1)" font-size="20.5" font-weight="bold" fill="#e2091d" text-anchor="middle">w</text>
<text transform="translate(1100.63,958.14) rotate(172.5) scale(0.8,1)" font-size="20.5" font-weight="bold" fill="#e2091d" text-anchor="middle">.</text>
<text transform="translate(1093.62,958.47) rotate(182) scale(0.84,1)" font-size="20.5" font-weight="normal" fill="#111" text-anchor="middle">h</text>
<text transform="translate(1085.71,957.45) rotate(192.8) scale(0.84,1)" font-size="20.5" font-weight="normal" fill="#111" text-anchor="middle">a</text>
<text transform="translate(1078.87,955.27) rotate(202.5) scale(0.84,1)" font-size="20.5" font-weight="normal" fill="#111" text-anchor="middle">i</text>
<text transform="translate(1072.32,951.86) rotate(212.5) scale(0.74,1)" font-size="24" font-weight="bold" fill="#111" text-anchor="middle" stroke="#111" stroke-width="0.35">s</text>
<text transform="translate(1065.12,946.08) rotate(225) scale(0.74,1)" font-size="24" font-weight="bold" fill="#111" text-anchor="middle" stroke="#111" stroke-width="0.35">e</text>
<text transform="translate(1058.91,938.19) rotate(238.6) scale(0.74,1)" font-size="24" font-weight="bold" fill="#111" text-anchor="middle" stroke="#111" stroke-width="0.35">n</text>
<text transform="translate(1055.39,930.95) rotate(249.5) scale(0.74,1)" font-size="24" font-weight="bold" fill="#111" text-anchor="middle" stroke="#111" stroke-width="0.35">t</text>
<text transform="translate(1053.91,926.14) rotate(256.3) scale(0.74,1)" font-size="24" font-weight="bold" fill="#111" text-anchor="middle" stroke="#111" stroke-width="0.35">i</text>
<text transform="translate(1052.97,920.9) rotate(263.5) scale(0.74,1)" font-size="24" font-weight="bold" fill="#111" text-anchor="middle" stroke="#111" stroke-width="0.35">t</text>
<text transform="translate(1052.78,913.51) rotate(273.5) scale(0.74,1)" font-size="24" font-weight="bold" fill="#111" text-anchor="middle" stroke="#111" stroke-width="0.35">o</text>
<text transform="translate(1053.82,906.42) rotate(283.2) scale(0.84,1)" font-size="20.5" font-weight="normal" fill="#111" text-anchor="middle">i</text>
<text transform="translate(1055.06,902.16) rotate(289.2) scale(0.84,1)" font-size="20.5" font-weight="normal" fill="#111" text-anchor="middle">l</text>
<text transform="translate(1057.52,896.46) rotate(297.6) scale(0.78,1)" font-size="21.5" font-weight="normal" fill="#111" text-anchor="middle" stroke="#111" stroke-width="0.5">t</text>
<text transform="translate(1062.15,889.42) rotate(309.0) scale(0.78,1)" font-size="21.5" font-weight="normal" fill="#111" text-anchor="middle" stroke="#111" stroke-width="0.5">e</text>
<text transform="translate(1067.39,884.0) rotate(319.2) scale(0.78,1)" font-size="21.5" font-weight="normal" fill="#111" text-anchor="middle" stroke="#111" stroke-width="0.5">r</text>
<text transform="translate(1072.38,880.3) rotate(327.6) scale(0.78,1)" font-size="21.5" font-weight="normal" fill="#111" text-anchor="middle" stroke="#111" stroke-width="0.5">r</text>
<text transform="translate(1078.67,877.01) rotate(337.2) scale(0.78,1)" font-size="21.5" font-weight="normal" fill="#111" text-anchor="middle" stroke="#111" stroke-width="0.5">e</text>
<text transform="translate(1089.64,874.05) rotate(352.6) scale(0.78,1)" font-size="21.5" font-weight="normal" fill="#111" text-anchor="middle" stroke="#111" stroke-width="0.5">m</text>
<text transform="translate(1101.51,874.19) rotate(368.7) scale(0.78,1)" font-size="21.5" font-weight="normal" fill="#111" text-anchor="middle" stroke="#111" stroke-width="0.5">o</text>
<text transform="translate(1110.29,876.52) rotate(381.0) scale(0.78,1)" font-size="21.5" font-weight="normal" fill="#111" text-anchor="middle" stroke="#111" stroke-width="0.5">t</text>
<text transform="translate(1118.07,880.46) rotate(392.8) scale(0.78,1)" font-size="21.5" font-weight="normal" fill="#111" text-anchor="middle" stroke="#111" stroke-width="0.5">o</text>
<text transform="translate(1124.82,885.86) rotate(404.5) scale(0.8,1)" font-size="20.5" font-weight="bold" fill="#e2091d" text-anchor="middle">.</text>
<text transform="translate(1128.42,889.88) rotate(411.8) scale(0.8,1)" font-size="20.5" font-weight="bold" fill="#e2091d" text-anchor="middle">i</text>
<text transform="translate(1131.89,895.03) rotate(420.2) scale(0.8,1)" font-size="20.5" font-weight="bold" fill="#e2091d" text-anchor="middle">t</text>
<line x1="229.0" y1="35.4" x2="229.0" y2="987.35" stroke="#000" stroke-width="0.92"/>
<line x1="446.6" y1="35.4" x2="446.6" y2="987.35" stroke="#000" stroke-width="0.92"/>
<line x1="664.25" y1="35.4" x2="664.25" y2="987.35" stroke="#000" stroke-width="0.92"/>
<line x1="881.8" y1="35.4" x2="881.8" y2="987.35" stroke="#000" stroke-width="0.92"/>
<line x1="1099.4" y1="35.4" x2="1099.4" y2="987.35" stroke="#000" stroke-width="0.92"/>
<line x1="83.1" y1="289.0" x2="1171.2" y2="289.0" stroke="#000" stroke-width="0.92"/>
<line x1="83.1" y1="575.95" x2="1171.2" y2="575.95" stroke="#000" stroke-width="0.92"/>
<line x1="83.1" y1="861.9" x2="1171.2" y2="861.9" stroke="#000" stroke-width="0.92"/>
<path d="M576.4,495.65 L580.53,508.36 L593.9,508.36 L583.08,516.22 L587.22,528.94 L576.4,521.08 L565.58,528.94 L569.72,516.22 L558.9,508.36 L572.27,508.36Z" fill="none" stroke="#000" stroke-width="4.25" stroke-miterlimit="10"/>
</g>
<rect x="767.5" y="46.5" width="386.2" height="61.4" fill="#fff" stroke="#000" stroke-width="1"/>
<text x="772.3" y="60.20" font-size="12.2" fill="#000" textLength="359.5" lengthAdjust="spacingAndGlyphs">Terremoto del 26-07-2024 16:15:22 (ora locale) Md=2.1 Prof=3 km</text>
<text x="772.3" y="75.13" font-size="12.2" fill="#000" textLength="379.3" lengthAdjust="spacingAndGlyphs">Mappa preliminare delle intensità macrosismiche stimate nelle località</text>
<text x="772.3" y="90.06" font-size="12.2" fill="#000" textLength="370.5" lengthAdjust="spacingAndGlyphs">Dati non verificati estratti da 93 questionari compilati tramite Internet.</text>
<text x="772.3" y="104.99" font-size="12.2" fill="#000" textLength="289.5" lengthAdjust="spacingAndGlyphs">Ultimo aggiornamento: 14-12-2025 03:11 (ora locale)</text>
<rect x="1049.8" y="168.6" width="104.6" height="478.2" fill="#fff"/>
<rect x="1052.4" y="171.1" width="99.4" height="473.1" fill="#fff" stroke="#000" stroke-width="1"/>
<text x="1102.1" y="188.2" font-size="11.8" font-weight="bold" fill="#000" text-anchor="middle" textLength="37" lengthAdjust="spacingAndGlyphs">Scala</text>
<text x="1102.1" y="204.1" font-size="11.8" font-weight="bold" fill="#000" text-anchor="middle" textLength="57" lengthAdjust="spacingAndGlyphs">Mercalli</text>
<text x="1102.1" y="220.2" font-size="11.8" font-weight="bold" fill="#000" text-anchor="middle" textLength="43" lengthAdjust="spacingAndGlyphs">(MCS)</text>
<rect x="1073.3" y="229.40" width="57.4" height="19.2" fill="#aaaaaa" stroke="#222" stroke-width="1"/>
<text x="1102.0" y="243.0" font-size="11.6" font-weight="bold" fill="#fff" text-anchor="middle" textLength="35" lengthAdjust="spacingAndGlyphs">n.a.*</text>
<rect x="1073.3" y="253.48" width="57.4" height="19.2" fill="#5068ae" stroke="#222" stroke-width="1"/>
<text x="1102.0" y="267.08" font-size="11.6" font-weight="bold" fill="#fff" text-anchor="middle" textLength="9.5" lengthAdjust="spacingAndGlyphs">II</text>
<rect x="1073.3" y="277.56" width="57.4" height="19.2" fill="#0028be" stroke="none" stroke-width="1"/>
<text x="1102.0" y="291.16" font-size="11.6" font-weight="bold" fill="#fff" text-anchor="middle" textLength="13" lengthAdjust="spacingAndGlyphs">III</text>
<rect x="1073.3" y="301.64" width="57.4" height="19.2" fill="#0064d2" stroke="#222" stroke-width="1"/>
<text x="1102.0" y="315.24" font-size="11.6" font-weight="bold" fill="#fff" text-anchor="middle" textLength="33" lengthAdjust="spacingAndGlyphs">III-IV</text>
<rect x="1073.3" y="325.72" width="57.4" height="19.2" fill="#059bec" stroke="#222" stroke-width="1"/>
<text x="1102.0" y="339.32" font-size="11.6" font-weight="bold" fill="#fff" text-anchor="middle" textLength="13" lengthAdjust="spacingAndGlyphs">IV</text>
<rect x="1073.3" y="349.80" width="57.4" height="19.2" fill="#00c878" stroke="#222" stroke-width="1"/>
<text x="1102.0" y="363.4" font-size="11.6" font-weight="bold" fill="#000" text-anchor="middle" textLength="27" lengthAdjust="spacingAndGlyphs">IV-V</text>
<rect x="1073.3" y="373.88" width="57.4" height="19.2" fill="#0cfb05" stroke="#222" stroke-width="1"/>
<text x="1102.0" y="387.48" font-size="11.6" font-weight="bold" fill="#000" text-anchor="middle" textLength="9.5" lengthAdjust="spacingAndGlyphs">V</text>
<rect x="1073.3" y="397.96" width="57.4" height="19.2" fill="#b4fa14" stroke="#222" stroke-width="1"/>
<text x="1102.0" y="411.56" font-size="11.6" font-weight="bold" fill="#000" text-anchor="middle" textLength="27" lengthAdjust="spacingAndGlyphs">V-VI</text>
<rect x="1073.3" y="422.04" width="57.4" height="19.2" fill="#fff500" stroke="#222" stroke-width="1"/>
<text x="1102.0" y="435.64" font-size="11.6" font-weight="bold" fill="#000" text-anchor="middle" textLength="13.2" lengthAdjust="spacingAndGlyphs">VI</text>
<rect x="1073.3" y="446.12" width="57.4" height="19.2" fill="#ffd200" stroke="#222" stroke-width="1"/>
<text x="1102.0" y="459.72" font-size="11.6" font-weight="bold" fill="#000" text-anchor="middle" textLength="37" lengthAdjust="spacingAndGlyphs">VI-VII</text>
<rect x="1073.3" y="470.20" width="57.4" height="19.2" fill="#ffaa00" stroke="#222" stroke-width="1"/>
<text x="1102.0" y="483.8" font-size="11.6" font-weight="bold" fill="#000" text-anchor="middle" textLength="18.5" lengthAdjust="spacingAndGlyphs">VII</text>
<rect x="1073.3" y="494.28" width="57.4" height="19.2" fill="#ff6e00" stroke="#222" stroke-width="1"/>
<text x="1102.0" y="507.88" font-size="11.6" font-weight="bold" fill="#000" text-anchor="middle" textLength="47.5" lengthAdjust="spacingAndGlyphs">VII-VIII</text>
<rect x="1073.3" y="518.36" width="57.4" height="19.2" fill="#ff0a0a" stroke="#222" stroke-width="1"/>
<text x="1102.0" y="531.96" font-size="11.6" font-weight="bold" fill="#000" text-anchor="middle" textLength="23" lengthAdjust="spacingAndGlyphs">VIII</text>
<text x="1102.5" y="557.6" font-size="11.8" fill="#111" text-anchor="middle" textLength="91" lengthAdjust="spacingAndGlyphs">*non avvertito</text>
<line x1="1051" y1="568.5" x2="1150.5" y2="568.5" stroke="#000" stroke-width="1" stroke-dasharray="2,2"/>
<text x="1101.5" y="583.9" font-size="11.8" font-weight="bold" fill="#000" text-anchor="middle" textLength="68" lengthAdjust="spacingAndGlyphs">Epicentro</text>
<text x="1101.5" y="599.8" font-size="11.8" font-weight="bold" fill="#000" text-anchor="middle" textLength="88" lengthAdjust="spacingAndGlyphs">strumentale</text>
<path d="M1099.6,612.6 L1101.76,619.23 L1108.73,619.23 L1103.09,623.33 L1105.24,629.97 L1099.6,625.87 L1093.96,629.97 L1096.11,623.33 L1090.47,619.23 L1097.44,619.23Z" fill="#fff" stroke="#000" stroke-width="1"/>
<rect x="73.4" y="26.3" width="1107.6999999999998" height="970.8000000000001" fill="none" stroke="#000" stroke-width="1"/>
<path d="M73.4,26.3H1181.1V997.1H73.4Z M83.1,35.4V987.35H1171.2V35.4Z" fill="#fff" fill-rule="evenodd" stroke="none"/>
<rect x="83.1" y="26.3" width="145.9" height="9.1" fill="#000"/>
<rect x="83.1" y="987.35" width="145.9" height="9.75" fill="#000"/>
<rect x="446.6" y="26.3" width="217.65" height="9.1" fill="#000"/>
<rect x="446.6" y="987.35" width="217.65" height="9.75" fill="#000"/>
<rect x="881.8" y="26.3" width="217.6" height="9.1" fill="#000"/>
<rect x="881.8" y="987.35" width="217.6" height="9.75" fill="#000"/>
<rect x="73.4" y="289.0" width="9.7" height="286.95" fill="#000"/>
<rect x="1171.2" y="289.0" width="9.9" height="286.95" fill="#000"/>
<rect x="73.4" y="861.9" width="9.7" height="125.45" fill="#000"/>
<rect x="1171.2" y="861.9" width="9.9" height="125.45" fill="#000"/>
<rect x="73.4" y="26.3" width="1107.6999999999998" height="970.8000000000001" fill="none" stroke="#000" stroke-width="1.05"/>
<rect x="83.1" y="35.4" width="1088.1000000000001" height="951.95" fill="none" stroke="#000" stroke-width="1.05"/>
<line x1="83.1" y1="26.3" x2="83.1" y2="35.4" stroke="#000" stroke-width="1.05"/>
<line x1="1171.2" y1="26.3" x2="1171.2" y2="35.4" stroke="#000" stroke-width="1.05"/>
<line x1="83.1" y1="987.35" x2="83.1" y2="997.1" stroke="#000" stroke-width="1.05"/>
<line x1="1171.2" y1="987.35" x2="1171.2" y2="997.1" stroke="#000" stroke-width="1.05"/>
<line x1="73.4" y1="35.4" x2="83.1" y2="35.4" stroke="#000" stroke-width="1.05"/>
<line x1="1171.2" y1="35.4" x2="1181.1" y2="35.4" stroke="#000" stroke-width="1.05"/>
<line x1="73.4" y1="987.35" x2="83.1" y2="987.35" stroke="#000" stroke-width="1.05"/>
<line x1="1171.2" y1="987.35" x2="1181.1" y2="987.35" stroke="#000" stroke-width="1.05"/>
<text transform="translate(229.4,16.9) scale(1,1.05)" font-size="22.3" text-anchor="middle" fill="#000">13°48'</text>
<text transform="translate(229.4,1023.5) scale(1,1.05)" font-size="22.3" text-anchor="middle" fill="#000">13°48'</text>
<text transform="translate(447.0,16.9) scale(1,1.05)" font-size="22.3" text-anchor="middle" fill="#000">14°00'</text>
<text transform="translate(447.0,1023.5) scale(1,1.05)" font-size="22.3" text-anchor="middle" fill="#000">14°00'</text>
<text transform="translate(664.65,16.9) scale(1,1.05)" font-size="22.3" text-anchor="middle" fill="#000">14°12'</text>
<text transform="translate(664.65,1023.5) scale(1,1.05)" font-size="22.3" text-anchor="middle" fill="#000">14°12'</text>
<text transform="translate(882.2,16.9) scale(1,1.05)" font-size="22.3" text-anchor="middle" fill="#000">14°24'</text>
<text transform="translate(882.2,1023.5) scale(1,1.05)" font-size="22.3" text-anchor="middle" fill="#000">14°24'</text>
<text transform="translate(1099.8,16.9) scale(1,1.05)" font-size="22.3" text-anchor="middle" fill="#000">14°36'</text>
<text transform="translate(1099.8,1023.5) scale(1,1.05)" font-size="22.3" text-anchor="middle" fill="#000">14°36'</text>
<text transform="translate(62.8,297.5) scale(1,1.05)" font-size="22.3" text-anchor="end" fill="#000">41°00'</text>
<text transform="translate(1190.3,297.5) scale(1,1.05)" font-size="22.3" text-anchor="start" fill="#000">41°00'</text>
<text transform="translate(62.8,584.45) scale(1,1.05)" font-size="22.3" text-anchor="end" fill="#000">40°48'</text>
<text transform="translate(1190.3,584.45) scale(1,1.05)" font-size="22.3" text-anchor="start" fill="#000">40°48'</text>
<text transform="translate(62.8,870.4) scale(1,1.05)" font-size="22.3" text-anchor="end" fill="#000">40°36'</text>
<text transform="translate(1190.3,870.4) scale(1,1.05)" font-size="22.3" text-anchor="start" fill="#000">40°36'</text>
</svg>
</body></html>
